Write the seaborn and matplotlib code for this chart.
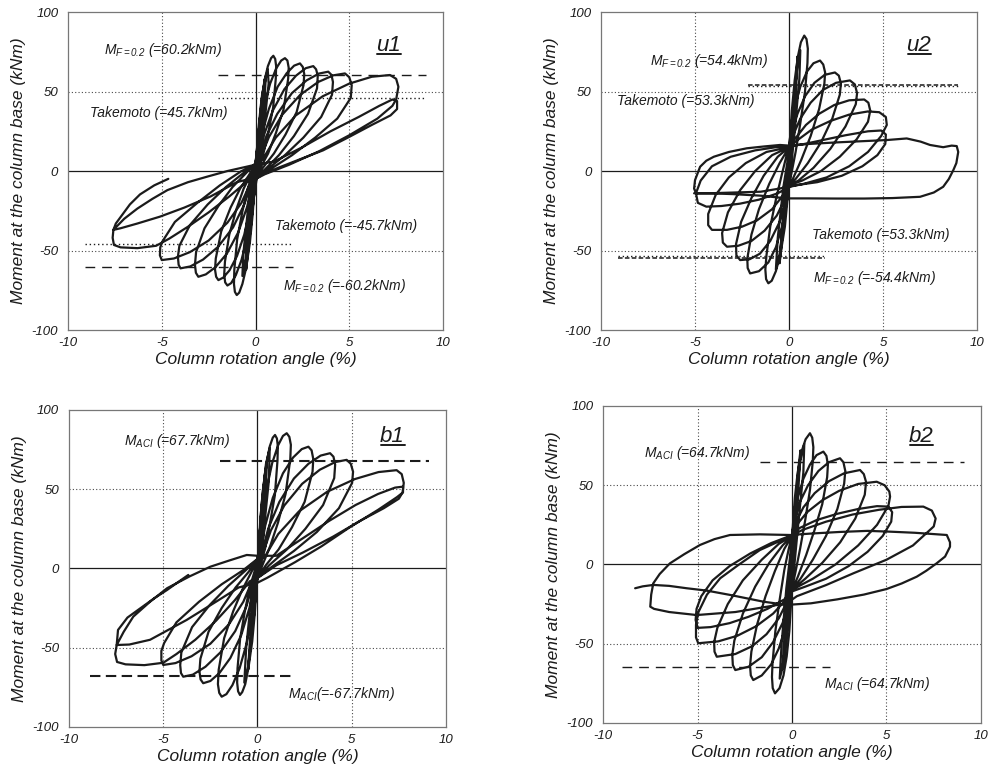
import matplotlib
matplotlib.use("Agg")
import matplotlib.pyplot as plt
from matplotlib.lines import Line2D
import pandas as pd
import seaborn as sns

# ---------------------------------------------------------------------------
# Measured hysteresis traces: (column rotation angle [%], base moment [kNm])
# One continuous loading history per specimen.
# ---------------------------------------------------------------------------
U1_TRACE = [
    (0.0, 0), (0.12, 18), (0.25, 35), (0.2, 25), (0.05, 3), (-0.1, -15), (-0.25, -35), (-0.2, -25), (-0.05, -3),
    (0.1, 12), (0.3, 40), (0.5, 58), (0.45, 45), (0.2, 12), (0.0, -5), (-0.25, -35), (-0.5, -62), (-0.45, -48), (-0.2, -15), (0.0, 5),
    (0.15, 22), (0.35, 48), (0.55, 60), (0.45, 38), (0.15, 6), (-0.1, -18), (-0.35, -45), (-0.55, -62), (-0.45, -40), (-0.15, -6), (0.0, 5),
    (0.15, 20), (0.4, 50), (0.65, 64), (0.7, 55), (0.4, 22), (0.1, -2), (-0.2, -25), (-0.5, -55), (-0.7, -66), (-0.65, -52), (-0.35, -18), (0.0, 5),
    # +1 / -1
    (0.05, 9), (0.14, 25), (0.29, 42), (0.48, 57), (0.66, 66), (0.83, 71), (0.95, 72.5), (1.05, 70.5), (1.1, 66), (1.08, 58),
    (0.94, 40), (0.68, 24), (0.42, 11), (0.16, 2), (0.0, -5),
    (-0.05, -10), (-0.15, -27), (-0.3, -45), (-0.5, -61), (-0.7, -71), (-0.87, -76.5), (-1.0, -78), (-1.1, -76), (-1.15, -71), (-1.13, -62),
    (-0.98, -43), (-0.71, -26), (-0.44, -12), (-0.17, -2), (0.0, 5),
    # +1.5 / -1.5
    (0.08, 9), (0.23, 25), (0.47, 41), (0.78, 55), (1.1, 64.5), (1.37, 69.5), (1.57, 71), (1.7, 69.5), (1.77, 65), (1.74, 58),
    (1.5, 39), (1.09, 24), (0.67, 11), (0.26, 2), (0.0, -5),
    (-0.08, -10), (-0.22, -25), (-0.45, -42), (-0.75, -56), (-1.05, -65.5), (-1.3, -70.5), (-1.5, -72), (-1.62, -70), (-1.67, -65), (-1.63, -57),
    (-1.4, -40), (-1.02, -24), (-0.63, -11), (-0.25, -2), (0.0, 5),
    # +2 / -2
    (0.12, 8), (0.36, 24), (0.71, 39), (1.18, 53), (1.66, 61.5), (2.06, 66.3), (2.37, 67.7), (2.52, 65.5), (2.6, 61), (2.56, 54),
    (2.19, 37), (1.6, 23), (0.98, 11), (0.39, 2), (0.0, -5),
    (-0.1, -9), (-0.3, -24), (-0.6, -40), (-0.99, -53.5), (-1.39, -62.5), (-1.72, -67), (-1.98, -68.6), (-2.1, -66.5), (-2.16, -62), (-2.12, -55),
    (-1.83, -38), (-1.33, -23), (-0.82, -11), (-0.32, -2), (0.0, 5),
    # +3 / -3
    (0.15, 8), (0.46, 23), (0.92, 38), (1.54, 51.5), (2.16, 60), (2.68, 64.7), (3.08, 66), (3.23, 64), (3.32, 60), (3.28, 52),
    (2.8, 36), (2.05, 22), (1.25, 10), (0.5, 1), (0.0, -5),
    (-0.15, -8), (-0.46, -23), (-0.92, -38.5), (-1.53, -52), (-2.14, -60.5), (-2.65, -65), (-3.05, -66.5), (-3.18, -64), (-3.23, -59), (-3.17, -51),
    (-2.72, -36), (-1.98, -22), (-1.22, -10), (-0.48, -1), (0.0, 5),
    # +4 / -4
    (0.19, 7.5), (0.58, 22), (1.16, 36), (1.94, 49), (2.72, 57), (3.38, 61.3), (3.88, 62.5), (4.05, 60.5), (4.13, 56), (4.08, 48),
    (3.5, 34), (2.55, 21), (1.57, 10), (0.62, 1), (0.0, -5),
    (-0.2, -7.5), (-0.6, -21), (-1.2, -35.5), (-2.0, -47.7), (-2.8, -55.7), (-3.48, -60), (-4.0, -61.2), (-4.1, -59), (-4.14, -54), (-4.06, -47),
    (-3.5, -34), (-2.55, -21), (-1.57, -10), (-0.62, -1), (0.0, 4),
    # +5 / -5
    (0.24, 7.5), (0.72, 21.5), (1.43, 35.5), (2.39, 48), (3.34, 56), (4.15, 60.2), (4.77, 61.4), (5.0, 59), (5.13, 54), (5.08, 46),
    (4.36, 33), (3.18, 21), (1.95, 10), (0.77, 1), (0.0, -5),
    (-0.25, -7), (-0.75, -20), (-1.5, -32.5), (-2.5, -43.7), (-3.5, -51), (-4.35, -55), (-5.0, -56), (-5.1, -53), (-5.08, -48), (-4.95, -44),
    (-4.3, -32), (-3.1, -20), (-1.9, -9), (-0.75, 0), (0.0, 4),
    # +7.5 / -7.5 (first cycle)
    (0.36, 7), (1.08, 21), (2.15, 35), (3.58, 47), (5.0, 55), (6.2, 59.3), (7.17, 60.4), (7.5, 58), (7.62, 53), (7.5, 45), (7.3, 41),
    (6.5, 33), (5.0, 22.5), (3.4, 12.5), (1.8, 4), (0.5, -2), (0.0, -5),
    (-0.5, -7), (-1.4, -16), (-2.5, -26), (-3.6, -35), (-4.6, -42.5), (-5.3, -47), (-6.3, -48.5), (-7.2, -48), (-7.55, -46.5), (-7.62, -42), (-7.58, -37),
    (-7.0, -30), (-6.3, -23.6), (-5.5, -17.5), (-4.7, -12), (-3.6, -7), (-2.6, -3.6), (-1.5, 0), (-0.5, 2.7), (0.0, 4),
    # +7.5 / -7.5 (second cycle) and final reloading
    (1.0, 6), (2.5, 15), (4.0, 25), (5.5, 34), (6.6, 41), (7.3, 45), (7.55, 44), (7.55, 39), (7.2, 35),
    (6.2, 29), (5.0, 21.5), (3.6, 13), (2.5, 8), (1.2, 2), (0.0, -4),
    (-1.0, -7), (-2.4, -16), (-3.8, -23), (-5.1, -28.7), (-6.3, -33), (-7.2, -36), (-7.58, -37),
    (-7.45, -33), (-7.2, -29), (-6.7, -21), (-6.16, -14.7), (-5.4, -9), (-4.65, -4.9),
]

U2_TRACE = [
    (0.0, 0), (0.1, 15), (0.2, 30), (0.15, 18), (0.0, 2), (-0.15, -18), (-0.2, -28), (-0.12, -12), (0.0, 5),
    (0.2, 35), (0.4, 62), (0.45, 72), (0.35, 45), (0.15, 15), (0.0, -2), (-0.2, -25), (-0.4, -48), (-0.5, -58), (-0.4, -40), (-0.2, -12), (0.0, 10),
    (0.2, 38), (0.45, 66), (0.6, 76), (0.55, 58), (0.3, 25), (0.05, -5), (-0.25, -30), (-0.5, -52), (-0.7, -62), (-0.6, -42), (-0.3, -10), (0.0, 12),
    # +1 / -1
    (0.05, 20), (0.15, 38), (0.3, 57), (0.47, 72), (0.63, 81), (0.81, 85.2), (0.93, 83), (1.0, 77), (0.98, 68),
    (0.85, 50), (0.6, 30), (0.35, 12), (0.12, -2), (0.0, -8),
    (-0.08, -18), (-0.22, -35), (-0.45, -52), (-0.7, -63), (-0.92, -69), (-1.1, -70.6), (-1.22, -68), (-1.26, -62), (-1.2, -53),
    (-1.0, -35), (-0.7, -18), (-0.4, -3), (-0.15, 9), (0.0, 15),
    # +2 / -2
    (0.1, 26), (0.3, 40), (0.6, 53), (0.95, 62.5), (1.3, 67.8), (1.65, 69.5), (1.82, 67), (1.92, 62), (1.88, 55),
    (1.6, 39), (1.15, 22), (0.65, 7), (0.2, -5), (0.0, -9),
    (-0.1, -18), (-0.35, -34), (-0.7, -48), (-1.1, -57.5), (-1.6, -63), (-2.07, -64.4), (-2.2, -61), (-2.22, -55),
    (-2.0, -40), (-1.6, -24), (-1.05, -8), (-0.5, 5), (0.0, 15),
    # +3 / -3
    (0.15, 24), (0.45, 36), (0.85, 47), (1.35, 55.5), (1.9, 60.5), (2.44, 62), (2.65, 60), (2.76, 55), (2.7, 48),
    (2.3, 33), (1.7, 18), (1.0, 5), (0.35, -5), (0.0, -9),
    (-0.15, -18), (-0.5, -32), (-1.0, -44), (-1.55, -52), (-2.1, -55.5), (-2.6, -56), (-2.8, -53), (-2.82, -46),
    (-2.55, -32), (-2.0, -17), (-1.35, -3), (-0.6, 9), (0.0, 15),
    # +4 / -4
    (0.2, 22), (0.6, 33), (1.15, 43), (1.8, 51), (2.5, 55.5), (3.24, 57), (3.5, 54.5), (3.62, 49), (3.55, 42),
    (3.0, 28), (2.2, 14), (1.3, 2), (0.5, -6), (0.0, -9),
    (-0.2, -17), (-0.65, -28), (-1.3, -37.5), (-2.0, -44), (-2.7, -47), (-3.3, -47.6), (-3.52, -45), (-3.56, -39),
    (-3.25, -26), (-2.6, -12), (-1.8, 0), (-0.9, 10), (0.0, 15),
    (0.3, 20), (0.9, 29), (1.6, 36), (2.4, 41.5), (3.2, 44.5), (4.0, 45), (4.22, 43), (4.32, 38), (4.2, 31),
    (3.6, 20), (2.7, 9), (1.7, 0), (0.7, -6), (0.0, -9),
    (-0.3, -15), (-0.9, -24), (-1.7, -31), (-2.5, -35), (-3.3, -37), (-4.1, -37), (-4.3, -34), (-4.3, -27),
    (-3.9, -15), (-3.2, -4), (-2.3, 5), (-1.2, 12), (0.0, 15),
    # +5 / -5
    (0.4, 19), (1.2, 26), (2.2, 31.5), (3.2, 35.5), (4.2, 37.5), (4.8, 37), (5.15, 34), (5.2, 29),
    (4.9, 22), (4.2, 12), (3.2, 3), (2.0, -4), (0.8, -8), (0.0, -10),
    (-0.6, -14), (-1.6, -18), (-2.6, -20.5), (-3.6, -22), (-4.4, -22.4), (-4.85, -20), (-4.95, -14),
    (-4.7, -6), (-4.1, 3), (-3.1, 9), (-1.8, 13), (-0.7, 15), (0.0, 15.5),
    (0.8, 17), (1.8, 19.5), (3.0, 22.5), (4.2, 25), (4.9, 25.5), (5.15, 23), (5.12, 17),
    (4.7, 10), (3.9, 3), (2.8, -3), (1.5, -7), (0.3, -9),
    (-0.5, -11), (-1.5, -13), (-3.0, -13.5), (-4.3, -14), (-4.95, -14), (-5.05, -11), (-5.0, -5.7),
    (-4.73, 2.7), (-4.4, 6.5), (-4.0, 9), (-3.2, 12), (-2.25, 14.3), (-1.3, 15.5), (-0.48, 16.4), (0.0, 16),
    # +9 and return
    (1.0, 17), (2.5, 18), (4.0, 18.8), (5.2, 19.5), (6.26, 20.5), (7.0, 18.5), (7.5, 16.4), (8.2, 15), (8.65, 16), (8.92, 15.7),
    (9.0, 12), (8.9, 5), (8.74, 0.6), (8.5, -5), (8.2, -9.9), (7.7, -13.5), (6.97, -16.2), (5.5, -17), (4.0, -17.3),
    (2.5, -17.3), (1.0, -17.2), (-0.12, -17.2), (-1.5, -15.5), (-3.0, -14.5), (-4.3, -14), (-5.05, -14),
]

B1_TRACE = [
    (0.0, 0), (0.1, 20), (0.2, 35), (0.15, 20), (0.0, 0), (-0.12, -20), (-0.2, -32), (-0.12, -15), (0.0, 3),
    (0.2, 35), (0.4, 60), (0.5, 66), (0.4, 45), (0.15, 12), (-0.05, -8), (-0.25, -35), (-0.45, -58), (-0.5, -64), (-0.4, -45), (-0.15, -10), (0.05, 8),
    (0.2, 38), (0.45, 66), (0.65, 76), (0.6, 55), (0.3, 20), (0.0, -6), (-0.25, -35), (-0.5, -62), (-0.7, -72), (-0.6, -50), (-0.3, -15), (0.0, 6),
    # +1 / -1
    (0.05, 10), (0.14, 29), (0.28, 49), (0.47, 66), (0.65, 77), (0.81, 82.5), (0.93, 84.2), (1.03, 82), (1.08, 77), (1.06, 68),
    (0.92, 46), (0.67, 29), (0.41, 13), (0.16, 2), (0.0, -6),
    (-0.05, -10), (-0.14, -28), (-0.28, -46), (-0.47, -62), (-0.65, -73), (-0.81, -78), (-0.93, -79.8), (-1.03, -77.5), (-1.08, -72), (-1.06, -63),
    (-0.92, -44), (-0.67, -27), (-0.41, -12), (-0.16, -2), (0.0, 6),
    # +2 / -2
    (0.08, 10), (0.23, 30), (0.47, 49.5), (0.78, 66.5), (1.09, 77.6), (1.35, 83.6), (1.55, 85.3), (1.69, 83), (1.77, 78), (1.74, 69),
    (1.49, 47), (1.09, 29), (0.67, 14), (0.26, 2), (0.0, -6),
    (-0.1, -10), (-0.29, -28), (-0.57, -47), (-0.95, -63), (-1.33, -73.6), (-1.65, -79.3), (-1.9, -80.9), (-2.03, -78.5), (-2.1, -73), (-2.06, -64),
    (-1.77, -44), (-1.29, -27), (-0.79, -13), (-0.31, -2), (0.0, 6),
    # +3 / -3
    (0.14, 9), (0.41, 27), (0.81, 44.5), (1.35, 60), (1.89, 70), (2.35, 75.3), (2.7, 76.8), (2.87, 74.5), (2.96, 69), (2.92, 61),
    (2.5, 42), (1.83, 26), (1.12, 12), (0.44, 2), (0.0, -6),
    (-0.14, -9), (-0.43, -25), (-0.86, -42), (-1.44, -56.5), (-2.02, -66), (-2.5, -71), (-2.88, -72.4), (-3.02, -70), (-3.08, -65), (-3.03, -57),
    (-2.6, -40), (-1.9, -25), (-1.16, -12), (-0.46, -2), (0.0, 6),
    # +4 / -4
    (0.19, 8.5), (0.58, 25.5), (1.16, 42), (1.93, 56.7), (2.7, 66), (3.35, 71.2), (3.85, 72.7), (4.03, 70.5), (4.12, 65.5), (4.07, 57),
    (3.48, 40), (2.54, 25), (1.56, 12), (0.62, 2), (0.0, -6),
    (-0.2, -8), (-0.59, -24), (-1.18, -39.5), (-1.97, -53), (-2.76, -62), (-3.43, -67), (-3.94, -68.3), (-4.06, -66), (-4.1, -61), (-4.04, -53),
    (-3.47, -37), (-2.53, -23), (-1.55, -11), (-0.61, -1), (0.0, 6),
    # +5 / -5
    (0.24, 8), (0.71, 24), (1.42, 39.7), (2.37, 53.4), (3.31, 62.3), (4.12, 67.1), (4.73, 68.5), (4.95, 66), (5.07, 61), (5.02, 54),
    (4.32, 38), (3.15, 23), (1.93, 11), (0.76, 1), (0.0, -6),
    (-0.25, -7), (-0.75, -21), (-1.5, -35), (-2.5, -47.5), (-3.5, -55.4), (-4.35, -59.7), (-5.0, -60.9), (-5.1, -58), (-5.1, -52), (-4.95, -47),
    (-4.3, -34), (-3.1, -21), (-1.9, -10), (-0.75, -1), (0.0, 6),
    # +7.5 / -7.5 (first cycle)
    (0.37, 7), (1.1, 21.7), (2.2, 36), (3.7, 48.4), (5.17, 56.4), (6.42, 60.8), (7.38, 62), (7.65, 59.5), (7.76, 54), (7.7, 48), (7.5, 44),
    (6.7, 38), (5.44, 30), (4.0, 20), (2.4, 10), (1.0, 2), (0.0, -6),
    (-0.4, -8), (-1.2, -20), (-2.2, -33), (-3.3, -45), (-4.3, -54), (-5.0, -59.5), (-6.0, -61), (-7.0, -60.5), (-7.45, -59), (-7.55, -54), (-7.47, -48.3),
    (-7.1, -40), (-6.59, -30.4), (-5.7, -21), (-4.8, -12.5), (-3.6, -5), (-2.5, 1.1), (-1.5, 5), (-0.57, 8.5), (0.0, 8),
    # +7.5 / -7.5 (second cycle) and final reloading
    (1.0, 8), (2.4, 19), (3.8, 30), (5.2, 40), (6.4, 47), (7.3, 51), (7.72, 51.6), (7.72, 48), (7.4, 45),
    (6.4, 37), (4.9, 26), (3.4, 14), (2.0, 4), (0.5, -6), (0.0, -9),
    (-1.0, -12), (-2.2, -21), (-3.76, -32.5), (-5.7, -45), (-6.8, -48), (-7.47, -48.3),
    (-7.4, -38.8), (-6.9, -31), (-6.2, -25), (-5.5, -19), (-4.8, -13.6), (-4.2, -8.5), (-3.67, -4.1),
]

B2_TRACE = [
    (0.0, 0), (0.1, 20), (0.2, 38), (0.15, 22), (0.0, 2), (-0.1, -20), (-0.2, -35), (-0.12, -15), (0.0, 5),
    (0.2, 40), (0.35, 62), (0.45, 72), (0.35, 50), (0.15, 15), (0.0, -8), (-0.2, -35), (-0.4, -58), (-0.5, -66), (-0.4, -45), (-0.15, -8), (0.0, 15),
    (0.2, 42), (0.45, 66), (0.65, 76), (0.6, 58), (0.35, 28), (0.05, -10), (-0.25, -40), (-0.5, -65), (-0.65, -72), (-0.55, -50), (-0.3, -15), (0.0, 15),
    # +1 / -1
    (0.05, 25), (0.15, 42), (0.3, 58), (0.5, 71), (0.72, 79), (0.95, 82.8), (1.07, 80), (1.13, 74), (1.1, 65),
    (0.95, 47), (0.7, 28), (0.43, 10), (0.18, -5), (0.0, -15),
    (-0.05, -25), (-0.14, -42), (-0.28, -58), (-0.45, -70), (-0.66, -78), (-0.9, -81.3), (-1.02, -78), (-1.06, -71), (-1.03, -62),
    (-0.88, -42), (-0.65, -22), (-0.4, -3), (-0.17, 10), (0.0, 18),
    # +2 / -2
    (0.1, 28), (0.3, 42), (0.6, 54), (0.95, 63), (1.3, 69), (1.66, 71.2), (1.82, 68.5), (1.9, 63), (1.86, 55),
    (1.6, 38), (1.2, 22), (0.75, 6), (0.3, -8), (0.0, -16),
    (-0.1, -24), (-0.35, -40), (-0.7, -53), (-1.1, -63), (-1.6, -70), (-2.05, -72.9), (-2.18, -70), (-2.22, -64), (-2.15, -55),
    (-1.85, -38), (-1.4, -20), (-0.9, -4), (-0.4, 10), (0.0, 18),
    # +3 / -3
    (0.12, 27), (0.4, 39), (0.85, 50), (1.4, 59), (1.95, 64.5), (2.54, 67), (2.72, 64.5), (2.82, 59), (2.76, 51),
    (2.4, 35), (1.8, 18), (1.1, 3), (0.45, -9), (0.0, -16),
    (-0.15, -23), (-0.5, -37), (-1.0, -49), (-1.6, -58.5), (-2.3, -64.5), (-3.0, -66.6), (-3.13, -63.5), (-3.16, -57), (-3.05, -48),
    (-2.6, -31), (-1.95, -14), (-1.2, 1), (-0.5, 12), (0.0, 18),
    # +4 / -4
    (0.18, 26), (0.6, 36), (1.2, 45), (1.95, 52.5), (2.75, 57.5), (3.6, 59.6), (3.8, 57), (3.92, 52), (3.85, 44),
    (3.35, 29), (2.55, 14), (1.6, 1), (0.7, -9), (0.0, -16),
    (-0.2, -22), (-0.7, -34), (-1.35, -44), (-2.1, -51.5), (-3.0, -56.5), (-3.98, -58.2), (-4.1, -55), (-4.12, -49), (-3.95, -40),
    (-3.4, -25), (-2.6, -10), (-1.6, 3), (-0.7, 13), (0.0, 18),
    # +5 / -5
    (0.25, 25), (0.8, 33), (1.6, 40.5), (2.5, 46.5), (3.5, 50.8), (4.48, 52.2), (4.9, 50), (5.15, 46), (5.19, 42.8), (5.1, 37),
    (4.5, 25), (3.5, 12), (2.3, 0), (1.1, -9), (0.0, -16),
    (-0.3, -22), (-1.0, -31), (-1.9, -39), (-2.9, -45), (-3.9, -48.5), (-4.96, -49.7), (-5.08, -46), (-5.08, -38), (-4.95, -30),
    (-4.5, -19), (-3.8, -8.7), (-2.8, 0), (-1.7, 9.1), (-0.8, 14), (0.0, 18),
    (0.4, 23), (1.3, 28), (2.4, 32), (3.5, 35), (4.5, 36.8), (5.1, 36.5), (5.3, 33), (5.25, 27),
    (4.8, 18), (4.0, 8), (3.0, -1), (1.8, -9), (0.7, -14), (0.0, -17),
    (-0.4, -22), (-1.3, -28), (-2.3, -33), (-3.3, -37), (-4.3, -39.5), (-5.0, -40), (-5.1, -35), (-5.05, -28),
    (-4.8, -20), (-4.2, -10), (-3.3, -1), (-2.2, 7), (-1.1, 13.5), (0.0, 18.5),
    # +7.5 / -7.5
    (0.6, 22), (1.8, 27), (3.2, 31.5), (4.6, 34.5), (5.8, 36.3), (6.95, 36.5), (7.4, 34), (7.6, 29), (7.5, 24), (7.3, 21.8),
    (6.4, 12), (5.0, 3), (3.26, -5.5), (1.8, -13), (0.26, -20),
    (-0.28, -24.5), (-1.5, -27), (-3.0, -30), (-5.04, -31.9), (-6.5, -30), (-7.3, -28), (-7.5, -26.6),
    (-7.45, -19), (-7.34, -11.9), (-7.0, -6), (-6.46, 0.7), (-5.7, 6.5), (-4.87, 12.3), (-4.1, 16), (-3.28, 18.6), (-1.7, 19), (-0.1, 18.6),
    # +8.3 and final return
    (1.0, 19.5), (2.5, 20.5), (4.0, 21.2), (5.19, 20.7), (6.5, 20), (7.5, 19.2), (8.19, 18.6), (8.36, 14), (8.36, 11.2),
    (8.1, 5), (7.65, 0.7), (7.1, -4), (6.6, -7.7), (5.8, -12), (5.0, -15.5), (3.8, -19), (2.4, -22), (1.0, -24.5), (-0.28, -25.5),
    (-1.5, -23.5), (-3.28, -19.2), (-4.5, -16.5), (-5.57, -15), (-6.5, -13.5), (-7.34, -12.9), (-7.9, -13.8), (-8.3, -15.0),
]

# Design moments quoted on each panel [kNm]
U1_M_F02, U1_TAKEMOTO = 60.2, 45.7
U2_M_F02, U2_TAKEMOTO = 54.4, 53.3
B1_M_ACI = 67.7
B2_M_ACI = 64.7

X_TICKS = [-10, -5, 0, 5, 10]
Y_TICKS = [-100, -50, 0, 50, 100]
X_LABEL = "Column rotation angle (%)"
Y_LABEL = "Moment at the column base (kNm)"

# ---------------------------------------------------------------------------
sns.set_theme(style="white")
plt.rcParams["font.family"] = ["Liberation Sans", "DejaVu Sans"]
plt.rcParams["font.style"] = "italic"
plt.rcParams["mathtext.fontset"] = "custom"
plt.rcParams["mathtext.rm"] = "Liberation Sans:italic"
plt.rcParams["mathtext.it"] = "Liberation Sans:italic"
plt.rcParams["mathtext.bf"] = "Liberation Sans:italic:bold"
plt.rcParams["axes.unicode_minus"] = False

INK = "#1b1b1b"
GRID = "#4a4a4a"

fig = plt.figure(figsize=(9.9, 7.78), dpi=100, facecolor="white")

panels = [
    dict(tag="u1", trace=U1_TRACE, rect=[0.0687, 0.5758, 0.3788, 0.4087],
         refs=[(U1_M_F02, -2.0, 9.1, "dash", 1.0), (U1_TAKEMOTO, -2.0, 9.1, "dot", 1.0),
               (-U1_TAKEMOTO, -9.1, 2.0, "dot", 1.0), (-U1_M_F02, -9.1, 2.0, "dash", 1.0)],
         notes=[(-8.1, 73.7, r"$M_{F=0.2}$ (=%.1fkNm)" % U1_M_F02),
                (-8.84, 33.9, "Takemoto (=%.1fkNm)" % U1_TAKEMOTO),
                (1.03, -37.3, "Takemoto (=-%.1fkNm)" % U1_TAKEMOTO),
                (1.48, -75.0, r"$M_{F=0.2}$ (=-%.1fkNm)" % U1_M_F02)],
         tag_xy=(6.45, 75.8)),
    dict(tag="u2", trace=U2_TRACE, rect=[0.6071, 0.5758, 0.3798, 0.4087],
         refs=[(U2_M_F02, -2.2, 9.0, "dense", 1.1), (U2_TAKEMOTO, -2.2, 9.0, "dot", 1.0),
               (-U2_TAKEMOTO, -9.1, 1.9, "dot", 1.0), (-U2_M_F02, -9.1, 1.9, "dense", 1.1)],
         notes=[(-7.38, 66.4, r"$M_{F=0.2}$ (=%.1fkNm)" % U2_M_F02),
                (-9.15, 41.3, "Takemoto (=%.1fkNm)" % U2_TAKEMOTO),
                (1.2, -42.5, "Takemoto (=%.1fkNm)" % U2_TAKEMOTO),
                (1.29, -69.7, r"$M_{F=0.2}$ (=-%.1fkNm)" % U2_M_F02)],
         tag_xy=(6.25, 75.8)),
    dict(tag="b1", trace=B1_TRACE, rect=[0.0697, 0.0656, 0.3808, 0.4075],
         refs=[(B1_M_ACI, -2.0, 9.1, "bold", 1.5), (-B1_M_ACI, -8.9, 2.0, "bold", 1.5)],
         notes=[(-7.1, 78.0, r"$M_{ACI}$ (=%.1fkNm)" % B1_M_ACI),
                (1.6, -81.7, r"$M_{ACI}$(=-%.1fkNm)" % B1_M_ACI)],
         tag_xy=(6.5, 80.0)),
    dict(tag="b2", trace=B2_TRACE, rect=[0.6091, 0.0707, 0.3818, 0.4075],
         refs=[(B2_M_ACI, -1.7, 9.1, "dash", 1.0), (-B2_M_ACI, -9.0, 2.0, "dash", 1.0)],
         notes=[(-7.84, 68.0, r"$M_{ACI}$ (=%.1fkNm)" % B2_M_ACI),
                (1.67, -78.0, r"$M_{ACI}$ (=%.1fkNm)" % B2_M_ACI)],
         tag_xy=(6.17, 77.5)),
]

LINESTYLES = {
    "dash": (0, (7, 5)),
    "dense": (0, (3, 1.5)),
    "bold": (0, (5, 2.6)),
    "dot": (0, (1, 2)),
}

tag_texts = []
for p in panels:
    ax = fig.add_axes(p["rect"])
    ax.set_facecolor("white")

    # grid: dotted at +/-5 % and +/-50 kNm, solid through the origin
    for v in (-5, 5):
        ax.axvline(v, color=GRID, lw=0.8, ls=(0, (1, 2)), zorder=1)
    for v in (-50, 50):
        ax.axhline(v, color=GRID, lw=0.8, ls=(0, (1, 2)), zorder=1)
    ax.axvline(0, color=INK, lw=0.9, zorder=1)
    ax.axhline(0, color=INK, lw=0.9, zorder=1)

    df = pd.DataFrame(p["trace"], columns=["rotation", "moment"])
    sns.lineplot(data=df, x="rotation", y="moment", sort=False, estimator=None,
                 color=INK, lw=1.6, ax=ax, zorder=3)
    ax.lines[-1].set_solid_joinstyle("round")

    for yv, x0, x1, style, lw in p["refs"]:
        ax.hlines(yv, x0, x1, colors=INK, lw=lw, linestyles=[LINESTYLES[style]], zorder=2)

    for x, y, s in p["notes"]:
        ax.text(x, y, s, fontsize=10, color=INK, ha="left", va="baseline", zorder=4)

    t = ax.text(*p["tag_xy"], p["tag"], fontsize=16, color=INK, ha="left", va="baseline", zorder=4)
    tag_texts.append(t)

    ax.set_xlim(-10, 10)
    ax.set_ylim(-100, 100)
    ax.set_xticks(X_TICKS)
    ax.set_yticks(Y_TICKS)
    ax.set_xticklabels([str(v) for v in X_TICKS])
    ax.set_yticklabels([str(v) for v in Y_TICKS])
    ax.tick_params(axis="both", length=0, labelsize=9.5, colors=INK)
    ax.tick_params(axis="x", pad=5)
    ax.tick_params(axis="y", pad=7)
    ax.set_xlabel(X_LABEL, fontsize=12.5, color=INK, labelpad=2)
    ax.set_ylabel(Y_LABEL, fontsize=12.5, color=INK, labelpad=4)
    for sp in ax.spines.values():
        sp.set_color("#777777")
        sp.set_linewidth(0.9)

# underline the specimen tags
fig.canvas.draw()
renderer = fig.canvas.get_renderer()
inv = fig.transFigure.inverted()
for t in tag_texts:
    bb = t.get_window_extent(renderer)
    (fx0, fy), (fx1, _) = inv.transform([(bb.x0 + 1, bb.y0 + 2), (bb.x1, bb.y0 + 2)])
    fig.add_artist(Line2D([fx0, fx1], [fy, fy], transform=fig.transFigure, color=INK, lw=1.4))

fig.savefig("out.png", dpi=100, facecolor="white")
